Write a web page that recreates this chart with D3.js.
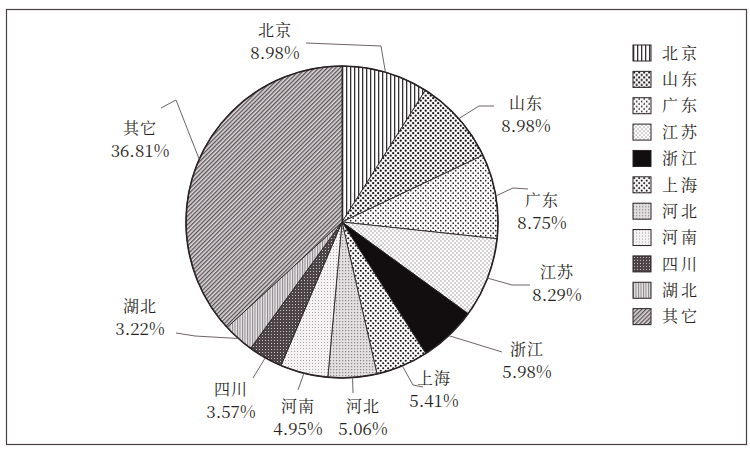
<!DOCTYPE html>
<html>
<head>
<meta charset="utf-8">
<script src="https://cdn.jsdelivr.net/npm/d3@7"></script>
<style>
  body { margin: 0; background: #fff; }
  svg text { fill: #2a1f22; font-family: "Noto Serif CJK SC", "Liberation Serif", serif; }
</style>
</head>
<body>
<div id="chart"></div>
<script>
// --- data ---
const regions = ['北京', '山东', '广东', '江苏', '浙江', '上海', '河北', '河南', '四川', '湖北', '其它'];
const shares  = [8.98, 8.98, 8.75, 8.29, 5.98, 5.41, 5.06, 4.95, 3.57, 3.22, 36.81];
const patterns = ['vert', 'dotsBig', 'dotsMid', 'dotsLight', 'solid', 'dotsBig2', 'stippleA', 'stippleB', 'darkHatch', 'greyVert', 'diag'];

// label anchor (text centre) and leader elbow, layout only
const labelLayout = [
  { x: 275, y: 30,  elbow: [[381, 46], [306, 43]] },
  { x: 526, y: 103, elbow: [[479, 106], [494, 106]] },
  { x: 542, y: 200, elbow: [[513, 188], [528, 189]] },
  { x: 557, y: 272, elbow: [[512, 285], [530, 285]] },
  { x: 527, y: 349, elbow: [[502, 352]] },
  { x: 434, y: 378, elbow: [[413, 385], [423, 387]] },
  { x: 363, y: 406, elbow: [[353, 393]] },
  { x: 298, y: 406, elbow: [[298, 390]] },
  { x: 231, y: 389, elbow: [[253, 378]] },
  { x: 140, y: 306, elbow: [[195, 336], [176, 333]] },
  { x: 140, y: 128, elbow: [[176, 100], [161, 108]] }
];

const W = 750, H = 450;
const cx = 342, cy = 222, R = 156;

const svg = d3.select('#chart').append('svg')
  .attr('width', W)
  .attr('height', H);

// frame
svg.append('rect')
  .attr('x', 6.5).attr('y', 9.5)
  .attr('width', 740).attr('height', 435)
  .attr('fill', 'none')
  .attr('stroke', '#4a3f44')
  .attr('stroke-width', 1.2);

// --- fill patterns ---
const defs = svg.append('defs');
function pat(id, w, h, bg, draw, transform) {
  const p = defs.append('pattern')
    .attr('id', id)
    .attr('patternUnits', 'userSpaceOnUse')
    .attr('width', w).attr('height', h);
  if (transform) p.attr('patternTransform', transform);
  p.append('rect').attr('width', w).attr('height', h).attr('fill', bg);
  draw(p);
}
pat('vert', 4, 4, '#fff', p => p.append('rect').attr('width', 1.3).attr('height', 4).attr('fill', '#3a2f33'));
pat('dotsBig', 5, 5, '#fff', p => {
  p.append('circle').attr('cx', 1.2).attr('cy', 1.2).attr('r', 1.15).attr('fill', '#1a1416');
  p.append('circle').attr('cx', 3.7).attr('cy', 3.7).attr('r', 1.15).attr('fill', '#1a1416');
});
pat('dotsBig2', 5, 5, '#fff', p => {
  p.append('circle').attr('cx', 1.2).attr('cy', 1.2).attr('r', 1.05).attr('fill', '#1a1416');
  p.append('circle').attr('cx', 3.7).attr('cy', 3.7).attr('r', 1.05).attr('fill', '#1a1416');
});
pat('dotsMid', 5, 5, '#fff', p => {
  p.append('circle').attr('cx', 1.2).attr('cy', 1.2).attr('r', 0.85).attr('fill', '#2a2226');
  p.append('circle').attr('cx', 3.7).attr('cy', 3.7).attr('r', 0.85).attr('fill', '#2a2226');
});
pat('dotsLight', 4, 4, '#fff', p => {
  p.append('circle').attr('cx', 1).attr('cy', 1).attr('r', 0.7).attr('fill', '#8a8286');
  p.append('circle').attr('cx', 3).attr('cy', 3).attr('r', 0.7).attr('fill', '#8a8286');
});
pat('solid', 4, 4, '#120d0f', () => {});
pat('stippleA', 3, 3, '#e2dfe0', p => {
  p.append('rect').attr('width', 1.2).attr('height', 1.2).attr('fill', '#8d868a');
});
pat('stippleB', 3, 3, '#f4f2f2', p => {
  p.append('rect').attr('width', 1).attr('height', 1).attr('fill', '#aaa4a7');
});
pat('darkHatch', 3, 3, '#4d4448', p => {
  p.append('rect').attr('x', 1).attr('y', 1).attr('width', 1).attr('height', 1).attr('fill', '#c9c3c6');
});
pat('greyVert', 2.5, 2.5, '#e6e3e4', p => {
  p.append('rect').attr('width', 1).attr('height', 2.5).attr('fill', '#8e878b');
});
pat('diag', 3, 3, '#dcd8da', p => {
  p.append('rect').attr('width', 1.3).attr('height', 3).attr('fill', '#5a5155');
}, 'rotate(45)');

// --- pie ---
const data = regions.map((r, i) => ({ region: r, value: shares[i], pattern: patterns[i], i }));
const pie = d3.pie().sort(null).value(d => d.value);
const arc = d3.arc().innerRadius(0).outerRadius(R);
const arcs = pie(data);

const g = svg.append('g').attr('transform', `translate(${cx},${cy})`);
g.selectAll('path.slice')
  .data(arcs)
  .join('path')
  .attr('class', 'slice')
  .attr('d', arc)
  .attr('fill', d => `url(#${d.data.pattern})`)
  .attr('stroke', '#2a2226')
  .attr('stroke-width', 0.9);

g.append('circle')
  .attr('r', R)
  .attr('fill', 'none')
  .attr('stroke', '#2a2226')
  .attr('stroke-width', 1.6);

// --- leader lines and labels ---
const line = d3.line();
arcs.forEach((d, i) => {
  const mid = (d.startAngle + d.endAngle) / 2;
  const start = [cx + R * Math.sin(mid), cy - R * Math.cos(mid)];
  const lay = labelLayout[i];
  svg.append('path')
    .attr('d', line([start, ...lay.elbow]))
    .attr('fill', 'none')
    .attr('stroke', '#6d6468')
    .attr('stroke-width', 1);
  svg.append('text')
    .attr('x', lay.x).attr('y', lay.y + 6)
    .attr('text-anchor', 'middle')
    .style('font-size', '16px')
    .style('letter-spacing', '1px')
    .text(d.data.region);
  svg.append('text')
    .attr('x', lay.x).attr('y', lay.y + 29)
    .attr('text-anchor', 'middle')
    .style('font-size', '17px')
    .text(d3.format('.2f')(d.data.value) + '%');
});

// --- legend ---
const legend = svg.append('g').attr('transform', 'translate(633,45)');
const ly = d3.scaleBand().domain(regions).range([0, 290]);
const items = legend.selectAll('g.item')
  .data(data)
  .join('g')
  .attr('class', 'item')
  .attr('transform', d => `translate(0,${ly(d.region)})`);
items.append('rect')
  .attr('width', 18).attr('height', 16)
  .attr('fill', d => `url(#${d.pattern})`)
  .attr('stroke', '#2a2226')
  .attr('stroke-width', 1);
items.append('text')
  .attr('x', 29).attr('y', 8)
  .attr('dy', '0.36em')
  .style('font-size', '16px')
  .style('letter-spacing', '3px')
  .text(d => d.region);
</script>
</body>
</html>
